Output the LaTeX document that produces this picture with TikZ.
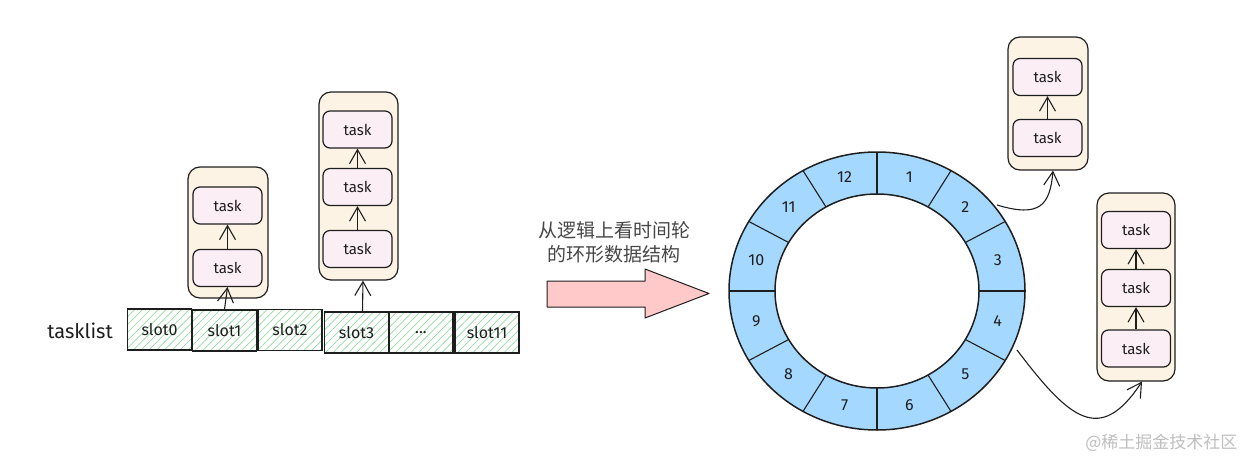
\documentclass[tikz,border=0pt]{standalone}
\usepackage{fontspec}
\setmainfont{Fira Sans}
\newfontfamily\cjk{Noto Sans CJK SC}
\usetikzlibrary{arrows.meta,patterns.meta}
\definecolor{inkc}{RGB}{30,30,30}
\definecolor{hatchc}{RGB}{150,218,160}
\definecolor{outerfill}{RGB}{253,243,228}
\definecolor{taskfill}{RGB}{252,238,245}
\definecolor{ringblue}{RGB}{165,216,255}
\definecolor{arrowpink}{RGB}{255,201,201}
\definecolor{capgray}{RGB}{70,70,70}
\definecolor{wmgray}{RGB}{190,190,190}
\tikzset{
  slotbox/.style={draw=inkc, line width=1.4pt, minimum width=64pt, minimum height=41pt, inner sep=0pt,
    pattern={Lines[angle=45,distance=5.5pt,line width=0.7pt]}, pattern color=hatchc,
    font=\fontsize{16}{16}\selectfont, text=inkc},
  outerbox/.style={draw=inkc, line width=1.2pt, fill=outerfill, rounded corners=12pt, inner sep=0pt},
  taskbox/.style={draw=inkc, line width=1.2pt, fill=taskfill, rounded corners=7pt, inner sep=0pt,
    minimum width=69pt, minimum height=37pt, font=\fontsize{15}{15}\selectfont, text=inkc},
  arr/.style={draw=inkc, line width=1.1pt, -{Straight Barb[length=14pt,width=16pt,line width=1.1pt]}},
  ringnum/.style={font=\fontsize{16}{16}\selectfont, text=inkc},
}
\begin{document}
\begin{tikzpicture}[x=1pt,y=-1pt]
\useasboundingbox (0,0) rectangle (1247,460);

% tasklist row
\node[font=\fontsize{20}{20}\selectfont, text=inkc] (tl) at (80,331) {tasklist};
\node[slotbox] (s0) at (159.5,329.5) {slot0};
\node[slotbox] (s1) at (224.5,330.5) {slot1};
\node[slotbox] (s2) at (290,330) {slot2};
\node[slotbox] (s3) at (356.5,332.5) {slot3};
\node[slotbox] (s4) at (421,332.5) {...};
\node[slotbox] (s5) at (487,332.5) {slot11};

% column A (slot1)
\node[outerbox, minimum width=80pt, minimum height=131pt] (A) at (228,232.5) {};
\node[taskbox] (a2) at (227.5,205.5) {task};
\node[taskbox] (a1) at (227.5,268) {task};
\draw[arr] (s1.north) -- (a1.south);
\draw[arr] (a1.north) -- (a2.south);

% column B (slot3)
\node[outerbox, minimum width=79pt, minimum height=188pt] (B) at (358.5,186) {};
\node[taskbox] (b3) at (357.5,129.5) {task};
\node[taskbox] (b2) at (357.5,187) {task};
\node[taskbox] (b1) at (357.5,249) {task};
\draw[arr] ([xshift=6pt]s3.north) -- ([xshift=4.5pt]B.south);
\draw[arr] (b1.north) -- (b2.south);
\draw[arr] (b2.north) -- (b3.south);

% caption and big arrow
\node[font=\cjk\fontsize{19}{24}\selectfont, align=center, text=capgray] (cap) at (614,242)
  {从逻辑上看时间轮\\的环形数据结构};
\draw[draw=inkc, line width=1pt, fill=arrowpink, line join=round]
  (547,281) -- (645,281) -- (645,269) -- (709,293.5) -- (645,318) -- (645,307) -- (547,307) -- cycle;

% ring
\begin{scope}[shift={(877,291)}, yscale=-1]
  \fill[ringblue, even odd rule] (0,0) ellipse [x radius=148, y radius=139]
                                 (0,0) ellipse [x radius=102, y radius=97];
  \draw[inkc, line width=1.5pt] (0,0) ellipse [x radius=148, y radius=139];
  \draw[inkc, line width=1.5pt] (0,0) ellipse [x radius=102, y radius=97];
  \foreach \a in {0,30,...,330}
    \draw[inkc, line width=1.1pt] (\a:102 and 97) -- (\a:148 and 139);
  \foreach \n [count=\i from 0] in {1,...,12}
    \node[ringnum] (n\n) at ({75-30*\i}:125 and 118) {\n};
\end{scope}

% column C (top right)
\node[outerbox, minimum width=80pt, minimum height=133pt] (C) at (1048,103.5) {};
\node[taskbox] (c2) at (1047.5,77) {task};
\node[taskbox] (c1) at (1047.5,138) {task};
\draw[arr] (c1.north) -- (c2.south);

% column D (right)
\node[outerbox, minimum width=78pt, minimum height=188pt] (D) at (1136,287) {};
\node[taskbox] (d3) at (1136,230) {task};
\node[taskbox] (d2) at (1136,288) {task};
\node[taskbox] (d1) at (1136,348.5) {task};
\draw[arr] (d1.north) -- (d2.south);
\draw[arr] (d2.north) -- (d3.south);

% ring connectors
\coordinate (r2) at (997,205);
\coordinate (r4) at (1017,350);
\draw[arr] (r2) .. controls (1040,218) and (1050,205) .. ([xshift=5pt]C.south);
\draw[arr] (r4) .. controls (1070,420) and (1100,445) .. ([xshift=6pt]D.south);

% watermark
\node[font=\cjk\fontsize{17}{17}\selectfont, text=wmgray, anchor=east] (wm) at (1241,443) {@稀土掘金技术社区};
\end{tikzpicture}
\end{document}
